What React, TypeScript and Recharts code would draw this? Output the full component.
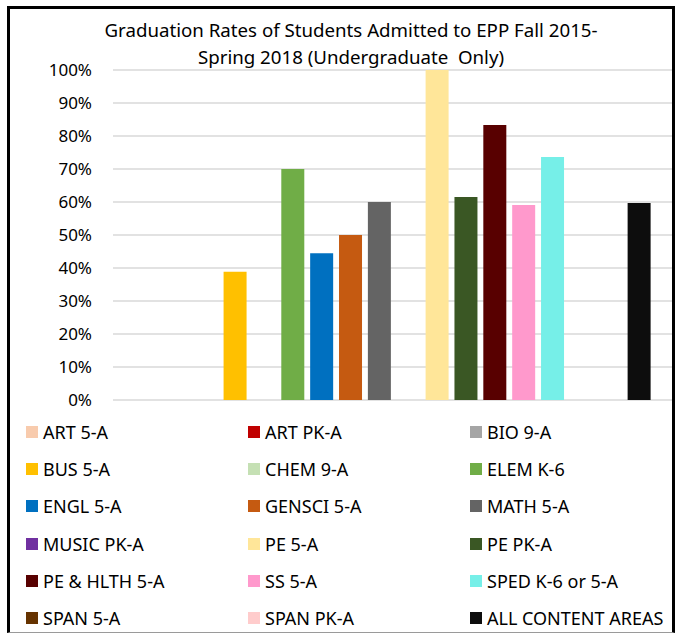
import { Bar, BarChart, CartesianGrid, Legend, XAxis, YAxis } from "recharts";

const categories = ["Fall 2015 - Spring 2018"];

const seriesNames = [
  "ART 5-A",
  "ART PK-A",
  "BIO 9-A",
  "BUS 5-A",
  "CHEM 9-A",
  "ELEM K-6",
  "ENGL 5-A",
  "GENSCI 5-A",
  "MATH 5-A",
  "MUSIC PK-A",
  "PE 5-A",
  "PE PK-A",
  "PE & HLTH 5-A",
  "SS 5-A",
  "SPED K-6 or 5-A",
  "SPAN 5-A",
  "SPAN PK-A",
  "ALL CONTENT AREAS",
];

const seriesValues = [
  0, 0, 0, 0.389, 0, 0.7, 0.445, 0.5, 0.6, 0, 1.0, 0.615, 0.833, 0.591, 0.736,
  0, 0, 0.597,
];

const seriesColors = [
  "#F8CBAD",
  "#C00000",
  "#A5A5A5",
  "#FFC000",
  "#C5E0B4",
  "#70AD47",
  "#0070C0",
  "#C55A11",
  "#646464",
  "#7030A0",
  "#FFE699",
  "#3A5724",
  "#580000",
  "#FF99CC",
  "#76EFE8",
  "#663300",
  "#FFCCCC",
  "#0D0D0D",
];

const yTicks = [0, 0.1, 0.2, 0.3, 0.4, 0.5, 0.6, 0.7, 0.8, 0.9, 1];

const titleLines = [
  "Graduation Rates of Students Admitted to EPP Fall 2015-",
  "Spring 2018 (Undergraduate  Only)",
];

const font = "'Noto Sans', sans-serif";

const data = categories.map((category) => {
  const row: Record<string, string | number> = { category };
  seriesNames.forEach((_, i) => {
    row[`s${i}`] = seriesValues[i];
  });
  return row;
});

// legend keeps the series order (Excel style, 3 columns)
function LegendGrid() {
  return (
    <div
      style={{
        display: "grid",
        gridTemplateColumns: "222px 222px 222px",
        gridAutoRows: "37.3px",
        fontFamily: font,
        fontSize: 18,
        color: "#000",
      }}
    >
      {seriesNames.map((name, i) => (
        <div key={name} style={{ display: "flex", alignItems: "center" }}>
          <span
            style={{
              width: 12,
              height: 12,
              background: seriesColors[i],
              marginRight: 5,
              flex: "none",
            }}
          />
          <span style={{ whiteSpace: "nowrap" }}>{name}</span>
        </div>
      ))}
    </div>
  );
}

export default function App() {
  return (
    <div
      style={{
        position: "absolute",
        left: 7,
        top: 6,
        width: 668,
        height: 627,
        boxSizing: "border-box",
        borderTop: "3px solid #000",
        borderLeft: "3px solid #000",
        borderRight: "3px solid #000",
        borderBottom: "1px solid #9a9a9a",
        background: "#fff",
      }}
    >
      <div
        style={{
          position: "absolute",
          left: 0,
          top: 7,
          width: 682,
          textAlign: "center",
          fontFamily: font,
          fontSize: 18.7,
          lineHeight: "27px",
          color: "#000",
        }}
      >
        {titleLines.map((t, i) => (
          <div key={i} style={{ whiteSpace: "pre" }}>
            {t}
          </div>
        ))}
      </div>
      <BarChart
        width={662}
        height={623}
        data={data}
        margin={{ top: 61, right: 0, bottom: 232, left: 0 }}
        barSize={23}
        barGap={5.86}
      >
        <CartesianGrid
          vertical={false}
          stroke="#D9D9D9"
          strokeWidth={1.6}
        />
        <XAxis dataKey="category" hide padding={{ left: 3, right: 0 }} />
        <YAxis
          domain={[0, 1]}
          ticks={yTicks}
          interval={0}
          width={103}
          axisLine={false}
          tickLine={false}
          tickSize={0}
          tickMargin={21}
          tickFormatter={(v: number) => `${Math.round(v * 100)}%`}
          tick={{ fill: "#000", fontSize: 17, fontFamily: font }}
        />
        <Legend
          layout="vertical"
          align="center"
          verticalAlign="middle"
          content={<LegendGrid />}
          wrapperStyle={{ top: 404, left: 16, width: 666 }}
        />
        {seriesNames.map((name, i) => (
          <Bar
            key={name}
            dataKey={`s${i}`}
            name={name}
            fill={seriesColors[i]}
            isAnimationActive={false}
          />
        ))}
      </BarChart>
    </div>
  );
}
